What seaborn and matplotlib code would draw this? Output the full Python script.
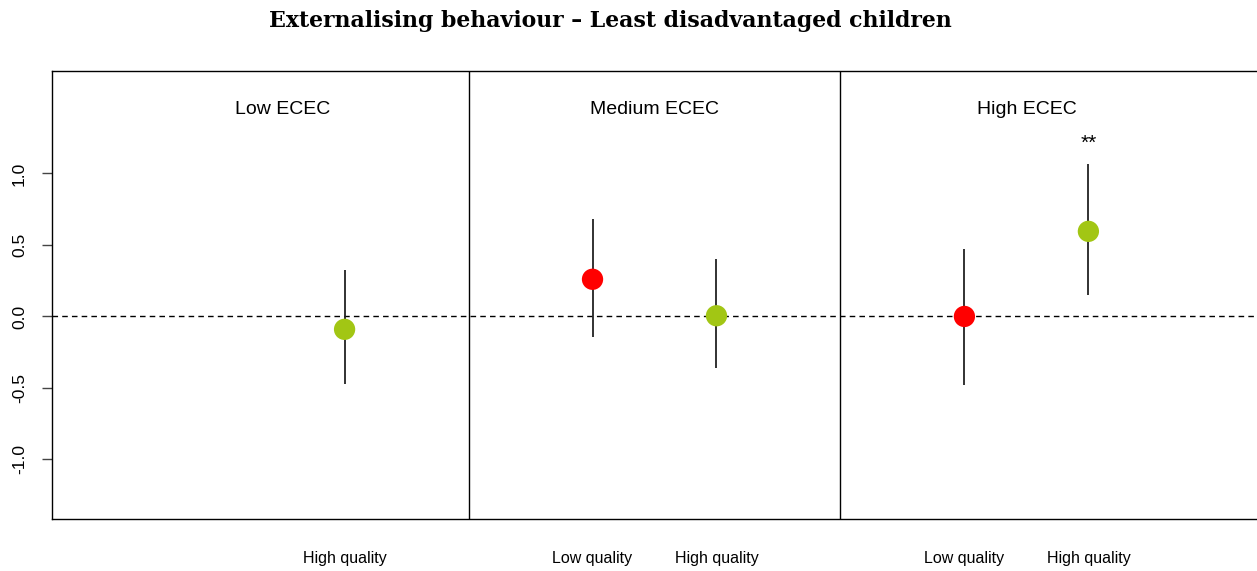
import numpy as np
import pandas as pd
import seaborn as sns
import matplotlib.pyplot as plt

# data
groups = ['Low ECEC', 'Medium ECEC', 'High ECEC']
group = ['Low ECEC', 'Medium ECEC', 'Medium ECEC', 'High ECEC', 'High ECEC']
quality = ['High quality', 'Low quality', 'High quality', 'Low quality', 'High quality']
estimate = [-0.09, 0.26, 0.005, 0.0, 0.595]
ci_low = [-0.47, -0.143, -0.358, -0.48, 0.152]
ci_high = [0.326, 0.681, 0.403, 0.473, 1.063]
signif = ['', '', '', '', '**']
yticks = [-1.0, -0.5, 0.0, 0.5, 1.0]

sns.set_style('white')
plt.rcParams['font.family'] = ['Liberation Sans', 'DejaVu Sans']
plt.rcParams['text.color'] = 'black'
plt.rcParams['xtick.color'] = 'black'
plt.rcParams['ytick.color'] = 'black'

df = pd.DataFrame({'group': group, 'quality': quality, 'estimate': estimate,
                   'lo': ci_low, 'hi': ci_high, 'sig': signif})
# each ECEC block takes 3 units: low quality at +1, high quality at +2
df['x'] = [groups.index(g) * 3 + (1 if q == 'Low quality' else 2)
           for g, q in zip(df['group'], df['quality'])]

fig = plt.figure(figsize=(12.57, 5.71), dpi=100)
ax = fig.add_axes([52 / 1257, 52 / 571, 1205 / 1257, 448 / 571])

ax.axhline(0, color='black', lw=1, ls=(0, (4, 3)), zorder=1)
for xv in [3, 6]:
    ax.axvline(xv, color='black', lw=1, zorder=1)
ax.vlines(df['x'], df['lo'], df['hi'], color='#222222', lw=1.3, zorder=2)

sns.scatterplot(data=df, x='x', y='estimate', hue='quality',
                palette={'Low quality': '#FF0000', 'High quality': '#A2C614'},
                s=235, linewidth=0, legend=False, zorder=3, ax=ax)

for i, g in enumerate(groups):
    ax.text(i * 3 + 1.5, 1.45, g, ha='center', va='center', fontsize=14)
for _, r in df.iterrows():
    if r['sig']:
        ax.text(r['x'], 1.21, r['sig'], ha='center', va='center', fontsize=15)

ax.set_xlim(-0.36, 9.36)
ax.set_ylim(-1.416, 1.716)
ax.set_xticks(df['x'])
ax.set_xticklabels(df['quality'], fontsize=11.5)
ax.tick_params(axis='x', length=0, pad=23)
ax.set_yticks(yticks)
ax.set_yticklabels([f'{v:.1f}' for v in yticks], rotation=90, va='center', fontsize=12.5)
ax.tick_params(axis='y', left=True, length=7, width=1, pad=11, color='#444444')
ax.set_xlabel('')
ax.set_ylabel('')
for s in ['left', 'top', 'bottom']:
    ax.spines[s].set_color('black')
    ax.spines[s].set_linewidth(1)
ax.spines['right'].set_visible(False)

fig.text(610 / 1257, 1 - 21 / 571, 'Externalising behaviour – Least disadvantaged children',
         ha='center', va='center', fontsize=15.8, fontweight='bold', family='DejaVu Serif')

fig.savefig('out.png', dpi=100)
